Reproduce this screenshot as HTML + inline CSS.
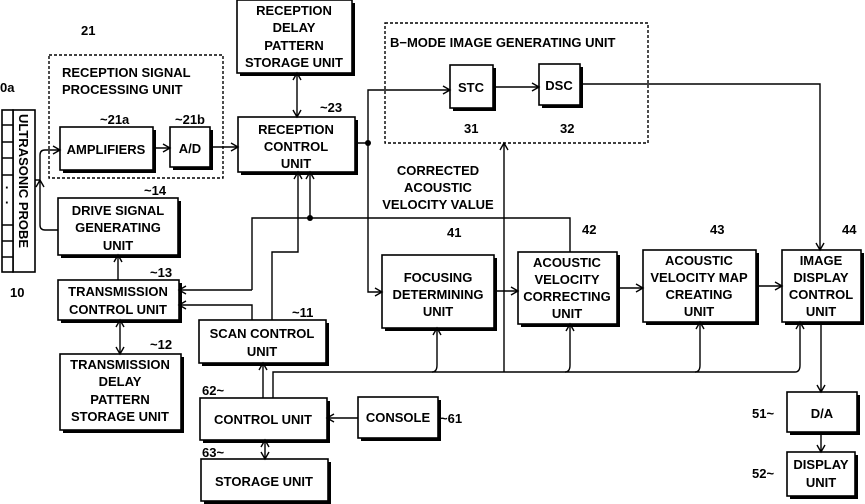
<!DOCTYPE html>
<html><head><meta charset="utf-8"><style>
html,body{margin:0;padding:0;background:#fff;}
svg{display:block;}
text{font-family:"Liberation Sans",sans-serif;font-size:13px;font-weight:bold;fill:#000;}
.b{fill:#fff;stroke:#000;stroke-width:1.6;}
.s{fill:#000;}
.l{fill:none;stroke:#000;stroke-width:1.4;}
.d{fill:none;stroke:#000;stroke-width:1.4;stroke-dasharray:3,2;}
</style></head><body>
<svg width="865" height="504" viewBox="0 0 865 504" xmlns="http://www.w3.org/2000/svg">
<defs>
<marker id="a" markerWidth="10" markerHeight="10" refX="8" refY="5" orient="auto" markerUnits="userSpaceOnUse">
<path d="M1,1 L8,5 L1,9" fill="none" stroke="#000" stroke-width="1.4"/></marker>
<marker id="as" markerWidth="10" markerHeight="10" refX="2" refY="5" orient="auto" markerUnits="userSpaceOnUse">
<path d="M9,1 L2,5 L9,9" fill="none" stroke="#000" stroke-width="1.4"/></marker>
</defs>
<g id="boxes">
<rect class="s" x="240" y="3" width="115" height="73"/><rect class="b" x="237" y="0" width="115" height="73"/>
<rect class="s" x="63" y="130" width="93" height="43"/><rect class="b" x="60" y="127" width="93" height="43"/>
<rect class="s" x="173" y="130" width="40" height="40"/><rect class="b" x="170" y="127" width="40" height="40"/>
<rect class="s" x="241" y="120" width="117" height="55"/><rect class="b" x="238" y="117" width="117" height="55"/>
<rect class="s" x="453" y="68" width="43" height="43"/><rect class="b" x="450" y="65" width="43" height="43"/>
<rect class="s" x="542" y="67" width="41" height="41"/><rect class="b" x="539" y="64" width="41" height="41"/>
<rect class="s" x="61" y="201" width="120" height="57"/><rect class="b" x="58" y="198" width="120" height="57"/>
<rect class="s" x="61" y="283" width="121" height="40"/><rect class="b" x="58" y="280" width="121" height="40"/>
<rect class="s" x="63" y="357" width="121" height="76"/><rect class="b" x="60" y="354" width="121" height="76"/>
<rect class="s" x="202" y="323" width="127" height="43"/><rect class="b" x="199" y="320" width="127" height="43"/>
<rect class="s" x="203" y="401" width="127" height="42"/><rect class="b" x="200" y="398" width="127" height="42"/>
<rect class="s" x="361" y="400" width="80" height="41"/><rect class="b" x="358" y="397" width="80" height="41"/>
<rect class="s" x="204" y="462" width="127" height="42"/><rect class="b" x="201" y="459" width="127" height="42"/>
<rect class="s" x="385" y="258" width="112" height="73"/><rect class="b" x="382" y="255" width="112" height="73"/>
<rect class="s" x="521" y="255" width="99" height="72"/><rect class="b" x="518" y="252" width="99" height="72"/>
<rect class="s" x="646" y="253" width="113" height="72"/><rect class="b" x="643" y="250" width="113" height="72"/>
<rect class="s" x="785" y="253" width="79" height="72"/><rect class="b" x="782" y="250" width="79" height="72"/>
<rect class="s" x="790" y="395" width="70" height="40"/><rect class="b" x="787" y="392" width="70" height="40"/>
<rect class="s" x="790" y="455" width="68" height="44"/><rect class="b" x="787" y="452" width="68" height="44"/>
</g>
<!-- probe -->
<rect class="b" x="13" y="110" width="22" height="162"/>
<rect class="b" x="2" y="110" width="11" height="162"/>
<path class="l" d="M2,125H13M2,142H13M2,158H13M2,175H13M2,225H13M2,241H13M2,257H13"/>
<text x="5" y="192" font-size="8">·</text><text x="5" y="207" font-size="8">·</text>
<text transform="translate(19,114) rotate(90)" font-size="14">ULTRASONIC PROBE</text>
<text x="0" y="92">0a</text><text x="10" y="297">10</text>
<!-- dashed boxes -->
<rect class="d" x="49" y="55" width="174" height="123"/>
<rect class="d" x="385" y="23" width="263" height="120"/>
<text x="62" y="77">RECEPTION SIGNAL</text><text x="62" y="94">PROCESSING UNIT</text>
<text x="81" y="35">21</text>
<text x="390" y="47">B−MODE IMAGE GENERATING UNIT</text>
<g text-anchor="middle">
<text x="294" y="15">RECEPTION</text><text x="294" y="32">DELAY</text><text x="294" y="50">PATTERN</text><text x="294" y="67">STORAGE UNIT</text>
<text x="106" y="154">AMPLIFIERS</text>
<text x="190" y="153">A/D</text>
<text x="296" y="134">RECEPTION</text><text x="296" y="151">CONTROL</text><text x="296" y="168">UNIT</text>
<text x="471" y="92">STC</text><text x="559" y="90">DSC</text>
<text x="118" y="215">DRIVE SIGNAL</text><text x="118" y="232">GENERATING</text><text x="118" y="250">UNIT</text>
<text x="118" y="296">TRANSMISSION</text><text x="118" y="314">CONTROL UNIT</text>
<text x="120" y="369">TRANSMISSION</text><text x="120" y="386">DELAY</text><text x="120" y="404">PATTERN</text><text x="120" y="421">STORAGE UNIT</text>
<text x="262" y="338">SCAN CONTROL</text><text x="262" y="356">UNIT</text>
<text x="263" y="424">CONTROL UNIT</text>
<text x="398" y="422">CONSOLE</text>
<text x="264" y="486">STORAGE UNIT</text>
<text x="438" y="282">FOCUSING</text><text x="438" y="299">DETERMINING</text><text x="438" y="316">UNIT</text>
<text x="567" y="267">ACOUSTIC</text><text x="567" y="284">VELOCITY</text><text x="567" y="301">CORRECTING</text><text x="567" y="318">UNIT</text>
<text x="699" y="265">ACOUSTIC</text><text x="699" y="282">VELOCITY MAP</text><text x="699" y="299">CREATING</text><text x="699" y="316">UNIT</text>
<text x="821" y="265">IMAGE</text><text x="821" y="282">DISPLAY</text><text x="821" y="299">CONTROL</text><text x="821" y="316">UNIT</text>
<text x="822" y="418">D/A</text>
<text x="821" y="469">DISPLAY</text><text x="821" y="487">UNIT</text>
<text x="438" y="175">CORRECTED</text><text x="438" y="192">ACOUSTIC</text><text x="438" y="209">VELOCITY VALUE</text>
</g>
<text x="100" y="124">~21a</text><text x="175" y="124">~21b</text><text x="320" y="112">~23</text>
<text x="144" y="195">~14</text><text x="150" y="277">~13</text><text x="150" y="349">~12</text><text x="292" y="317">~11</text>
<text x="202" y="395">62~</text><text x="440" y="423">~61</text><text x="202" y="457">63~</text>
<text x="464" y="133">31</text><text x="560" y="133">32</text>
<text x="447" y="237">41</text><text x="582" y="234">42</text><text x="710" y="234">43</text><text x="842" y="234">44</text>
<text x="752" y="418">51~</text><text x="752" y="478">52~</text>
<!-- connectors -->
<path class="l" d="M35,180H40V155Q40,150 45,150H60" marker-end="url(#a)"/>
<path class="l" d="M40,180V225Q40,230 45,230H58" marker-start="url(#as)"/>
<path class="l" d="M153,148H170" marker-end="url(#a)"/>
<path class="l" d="M210,147H238" marker-end="url(#a)"/>
<path class="l" d="M297,73V117" marker-start="url(#as)" marker-end="url(#a)"/>
<path class="l" d="M355,143H368V90H450" marker-end="url(#a)"/>
<path class="l" d="M368,143V292H382" marker-end="url(#a)"/>
<circle cx="368" cy="143" r="3"/>
<path class="l" d="M493,87H539" marker-end="url(#a)"/>
<path class="l" d="M580,84H820V250" marker-end="url(#a)"/>
<path class="l" d="M504,372V143" marker-end="url(#a)"/>
<path class="l" d="M252,290V218H570V252"/>
<path class="l" d="M252,290H179" marker-end="url(#a)"/>
<path class="l" d="M310,218V172" marker-end="url(#a)"/>
<circle cx="310" cy="218" r="3"/>
<path class="l" d="M252,320V305H179" marker-end="url(#a)"/>
<path class="l" d="M272,320V252H298V172" marker-end="url(#a)"/>
<path class="l" d="M118,280V255" marker-end="url(#a)"/>
<path class="l" d="M120,320V354" marker-start="url(#as)" marker-end="url(#a)"/>
<path class="l" d="M263,398V363" marker-end="url(#a)"/>
<path class="l" d="M265,440V459" marker-start="url(#as)" marker-end="url(#a)"/>
<path class="l" d="M358,418H327" marker-end="url(#a)"/>
<path class="l" d="M273,398V372H795Q800,372 800,365V322" marker-end="url(#a)"/>
<path class="l" d="M432,372Q437,372 437,365V328" marker-end="url(#a)"/>
<path class="l" d="M565,372Q570,372 570,365V324" marker-end="url(#a)"/>
<path class="l" d="M695,372Q700,372 700,365V322" marker-end="url(#a)"/>
<path class="l" d="M494,291H518" marker-end="url(#a)"/>
<path class="l" d="M617,288H643" marker-end="url(#a)"/>
<path class="l" d="M756,286H782" marker-end="url(#a)"/>
<path class="l" d="M821,322V392" marker-end="url(#a)"/>
<path class="l" d="M821,432V452" marker-end="url(#a)"/>
</svg>
</body></html>
